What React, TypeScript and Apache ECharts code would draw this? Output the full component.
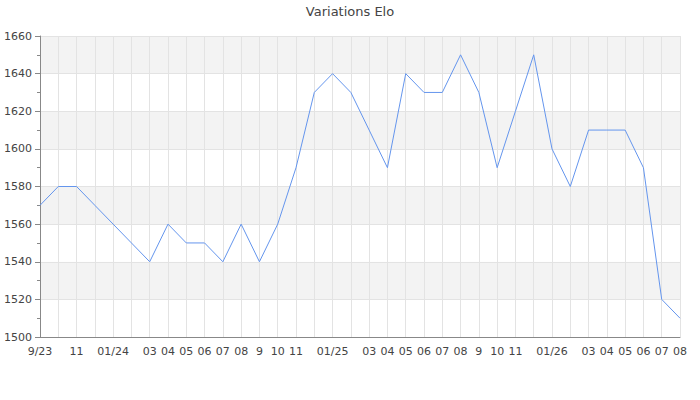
import React, { useEffect, useRef } from "react";
import * as echarts from "echarts";

const months = [
  "2023-09", "2023-10", "2023-11", "2023-12", "2024-01", "2024-02", "2024-03", "2024-04", "2024-05",
  "2024-06", "2024-07", "2024-08", "2024-09", "2024-10", "2024-11", "2024-12", "2025-01", "2025-02",
  "2025-03", "2025-04", "2025-05", "2025-06", "2025-07", "2025-08", "2025-09", "2025-10", "2025-11",
  "2025-12", "2026-01", "2026-02", "2026-03", "2026-04", "2026-05", "2026-06", "2026-07", "2026-08",
];

const tickLabels = [
  "9/23", "", "11", "", "01/24", "", "03", "04", "05",
  "06", "07", "08", "9", "10", "11", "", "01/25", "",
  "03", "04", "05", "06", "07", "08", "9", "10", "11",
  "", "01/26", "", "03", "04", "05", "06", "07", "08",
];

const elo = [
  1570, 1580, 1580, 1570, 1560, 1550, 1540, 1560, 1550,
  1550, 1540, 1560, 1540, 1560, 1590, 1630, 1640, 1630,
  1610, 1590, 1640, 1630, 1630, 1650, 1630, 1590, 1620,
  1650, 1600, 1580, 1610, 1610, 1610, 1590, 1520, 1510,
];

export default function App() {
  const ref = useRef<HTMLDivElement>(null);
  useEffect(() => {
    if (!ref.current) return;
    const chart = echarts.init(ref.current, undefined, { renderer: "svg" });
    const font = "DejaVu Sans";
    chart.setOption({
      animation: false,
      title: {
        text: "Variations Elo",
        left: "center",
        top: 0,
        textStyle: { fontFamily: font, fontSize: 13, fontWeight: "normal", color: "#444" },
      },
      grid: { left: 40, right: 20, top: 36, bottom: 63, containLabel: false },
      xAxis: {
        type: "category",
        data: months,
        boundaryGap: false,
        axisLine: { show: true, lineStyle: { color: "#888" } },
        axisTick: { show: false },
        axisLabel: {
          interval: 0,
          margin: 9,
          fontFamily: font,
          fontSize: 11,
          color: "#444",
          formatter: (_v: string, i: number) => tickLabels[i],
        },
        splitLine: { show: true, interval: 0, lineStyle: { color: "#e3e3e3" } },
      },
      yAxis: {
        type: "value",
        min: 1500,
        max: 1660,
        interval: 20,
        axisLine: { show: true, lineStyle: { color: "#888" } },
        axisTick: { show: true, length: 5, lineStyle: { color: "#888" } },
        minorTick: { show: true, splitNumber: 2, length: 3, lineStyle: { color: "#888" } },
        axisLabel: {
          margin: 8,
          fontFamily: font,
          fontSize: 11,
          color: "#444",
          formatter: (v: number) => String(v),
        },
        splitLine: { show: true, lineStyle: { color: "#e3e3e3" } },
        splitArea: { show: true, areaStyle: { color: ["#ffffff", "#f3f3f3"] } },
      },
      series: [
        {
          type: "line",
          data: elo,
          showSymbol: false,
          symbol: "none",
          lineStyle: { color: "#6495ed", width: 1 },
          itemStyle: { color: "#6495ed" },
        },
      ],
    });
    return () => chart.dispose();
  }, []);
  return (
    <div
      ref={ref}
      style={{ position: "absolute", left: 0, top: 0, width: 700, height: 400 }}
    />
  );
}
